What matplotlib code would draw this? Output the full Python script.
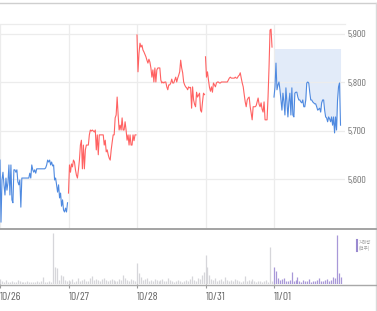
import numpy as np
import matplotlib
matplotlib.use("Agg")
import matplotlib.pyplot as plt
from matplotlib.lines import Line2D

# ---------------- data ----------------
day_labels = ["10/26", "10/27", "10/28", "10/31", "11/01"]

price_d1 = [5640, 5512, 5599, 5615, 5589, 5568, 5603, 5578, 5593, 5630, 5568, 5630, 5558, 5552,
            5620, 5620, 5615, 5620, 5595, 5589, 5599, 5543, 5603, 5603, 5603, 5603, 5603, 5603,
            5603, 5603, 5613, 5603, 5630, 5620, 5615, 5620, 5613, 5622, 5622, 5622, 5622, 5622,
            5622, 5622, 5622, 5622, 5624, 5630, 5640, 5636, 5640, 5630, 5636, 5628, 5630, 5599,
            5603, 5589, 5574, 5589, 5562, 5572, 5545, 5558, 5537, 5533, 5541, 5533, 5552]
price_d2 = [5572, 5630, 5615, 5632, 5626, 5640, 5636, 5620, 5609, 5603, 5620, 5640, 5671, 5681,
            5622, 5671, 5622, 5661, 5671, 5671, 5671, 5692, 5702, 5700, 5702, 5700, 5698, 5702,
            5661, 5692, 5651, 5692, 5692, 5692, 5692, 5692, 5671, 5681, 5657, 5661, 5651, 5644,
            5640, 5661, 5677, 5692, 5692, 5727, 5733, 5770, 5733, 5702, 5712, 5702, 5727, 5702,
            5702, 5719, 5702, 5681, 5692, 5671, 5692, 5671, 5671, 5692, 5680, 5692, 5692]
price_d3 = [5898, 5822, 5860, 5881, 5873, 5877, 5867, 5863, 5858, 5853, 5846, 5840, 5848, 5842,
            5830, 5811, 5826, 5801, 5830, 5801, 5826, 5830, 5830, 5830, 5805, 5799, 5801, 5799,
            5801, 5801, 5791, 5785, 5795, 5795, 5799, 5807, 5799, 5799, 5805, 5811, 5801, 5809,
            5815, 5822, 5846, 5830, 5820, 5801, 5795, 5791, 5789, 5785, 5791, 5789, 5790, 5747,
            5791, 5764, 5755, 5750, 5780, 5770, 5774, 5778, 5743, 5739, 5760, 5778, 5775]
price_d4 = [5853, 5811, 5822, 5805, 5790, 5782, 5791, 5780, 5799, 5795, 5791, 5799, 5801, 5801,
            5799, 5799, 5801, 5801, 5801, 5801, 5801, 5801, 5801, 5805, 5809, 5811, 5809, 5809,
            5809, 5809, 5811, 5809, 5809, 5813, 5815, 5820, 5809, 5799, 5791, 5775, 5760, 5750,
            5764, 5768, 5770, 5750, 5737, 5723, 5750, 5750, 5750, 5752, 5760, 5768, 5755, 5750,
            5758, 5745, 5739, 5760, 5723, 5723, 5723, 5770, 5832, 5908, 5910, 5873]
price_d5 = [5770, 5791, 5840, 5785, 5795, 5801, 5785, 5764, 5743, 5778, 5760, 5733, 5789, 5760,
            5729, 5760, 5778, 5733, 5789, 5733, 5729, 5778, 5780, 5780, 5770, 5764, 5764, 5760,
            5758, 5764, 5750, 5750, 5764, 5799, 5801, 5799, 5780, 5764, 5764, 5760, 5758, 5756,
            5756, 5750, 5743, 5745, 5747, 5739, 5758, 5764, 5764, 5743, 5729, 5727, 5719, 5729,
            5725, 5719, 5729, 5712, 5729, 5696, 5729, 5702, 5764, 5791, 5799, 5712]
prices = [price_d1, price_d2, price_d3, price_d4, price_d5]
line_colors = ["#4f8ae0", "#ff6262", "#ff6262", "#ff6262", "#4f8ae0"]
ref_price = 5870

vol_d1 = [5, 3, 2, 4, 2, 2, 3, 2, 2, 4, 3, 2, 2, 2, 3, 2, 2, 2, 2, 3, 2, 3, 7, 2, 2, 3, 2, 51, 17, 16, 4, 9, 8, 4, 3]
vol_d2 = [4, 3, 5, 2, 3, 6, 3, 4, 5, 3, 3, 6, 8, 4, 5, 4, 3, 5, 6, 4, 3, 4, 5, 4, 3, 3, 5, 4, 9, 6, 4, 3, 5, 4, 3]
vol_d3 = [21, 11, 7, 4, 5, 6, 3, 4, 3, 5, 4, 3, 4, 5, 3, 3, 6, 4, 3, 2, 3, 4, 3, 2, 3, 4, 3, 5, 8, 4, 3, 6, 5, 9, 12]
vol_d4 = [29, 17, 9, 5, 4, 6, 3, 4, 5, 3, 7, 4, 3, 4, 3, 5, 4, 3, 2, 3, 8, 3, 4, 3, 5, 3, 2, 3, 3, 2, 3, 4, 2, 37, 3]
vol_d5 = [17, 13, 6, 4, 5, 6, 3, 3, 4, 12, 3, 4, 7, 3, 2, 4, 3, 3, 5, 2, 3, 3, 4, 6, 3, 3, 4, 5, 3, 4, 7, 6, 49, 11, 7]
volumes = [vol_d1, vol_d2, vol_d3, vol_d4, vol_d5]
vol_colors = ["#d6d6da", "#d6d6da", "#d6d6da", "#d6d6da", "#a898d8"]

y_ticks = [5600, 5700, 5800, 5900]

# ---------------- figure ----------------
W, H = 377, 311
fig = plt.figure(figsize=(W / 100, H / 100), dpi=100)
fig.patch.set_facecolor("white")

narrow = ["Barlow Condensed", "DejaVu Sans"]


def fx(px):
    return px / W


def fy(py):
    return 1 - py / H


ax = fig.add_axes([0, fy(228), fx(345), fy(24) - fy(228)])
axv = fig.add_axes([0, fy(284), fx(345), fy(229) - fy(284)])

xmax = 345 / 68.5
for a in (ax, axv):
    a.set_xlim(0, xmax)
    a.set_facecolor("none")

# price lines
for d, vals in enumerate(prices):
    v = np.array(vals, dtype=float)
    x = d + np.arange(len(v)) / 69.0
    if d == 4:
        ax.fill_between(x, v, ref_price, color="#e2ebf9", lw=0, zorder=1)
    ax.plot(x, v, color=line_colors[d], lw=0.8, zorder=3, solid_joinstyle="round")

ax.set_ylim(5500, 5920.6)
ax.set_yticks(y_ticks)
ax.set_yticklabels([f"{t:,}" for t in y_ticks])
ax.yaxis.tick_right()
ax.tick_params(axis="y", length=0, pad=1.5, labelsize=7.2, labelcolor="#6e6e6e")
for lbl in ax.get_yticklabels():
    lbl.set_family(narrow)
ax.set_xticks(range(5))
ax.tick_params(axis="x", length=0, labelbottom=False)
ax.grid(True, color="#ececec", lw=0.9, zorder=0)
for s in ("left", "right", "bottom"):
    ax.spines[s].set_visible(False)
ax.spines["top"].set_color("#ececec")
ax.spines["top"].set_linewidth(0.9)

# volume bars
for d, vals in enumerate(volumes):
    v = np.array(vals, dtype=float)
    x = d + np.arange(len(v)) / len(v)
    axv.vlines(x, 0, v, color=vol_colors[d], lw=0.9, zorder=2)

axv.set_ylim(0, 55)
axv.set_yticks([])
axv.set_xticks(range(5))
axv.set_xticklabels(day_labels)
axv.tick_params(axis="x", length=3, width=0.8, color="#9a9a9a", pad=2.5,
                labelsize=8.4, labelcolor="#666666")
for lbl in axv.get_xticklabels():
    lbl.set_horizontalalignment("left")
    lbl.set_family(narrow)
for s in ("left", "right", "top", "bottom"):
    axv.spines[s].set_visible(False)

# legend in volume pane
fig.add_artist(Line2D([fx(356.5), fx(356.5)], [fy(240), fy(251)], color="#9a8ad0", lw=1.5))
fig.text(fx(359), fy(245.5), "거래량\n(천주)", fontsize=3.2, color="#9a9a9a",
         family=["Noto Sans CJK KR", "DejaVu Sans"], va="center", ha="left", linespacing=1.0)

# frame lines
fig.add_artist(Line2D([0, fx(376)], [fy(3), fy(3)], color="#cfcfcf", lw=1.0))
fig.add_artist(Line2D([fx(375.5), fx(375.5)], [fy(3), 0], color="#dadada", lw=1.0))
fig.add_artist(Line2D([0, fx(376)], [fy(228.5), fy(228.5)], color="#9c9c9c", lw=1.3))
fig.add_artist(Line2D([0, fx(376)], [fy(284.5), fy(284.5)], color="#a8a8a8", lw=1.0))

fig.savefig("out.png", dpi=100, facecolor="white")
